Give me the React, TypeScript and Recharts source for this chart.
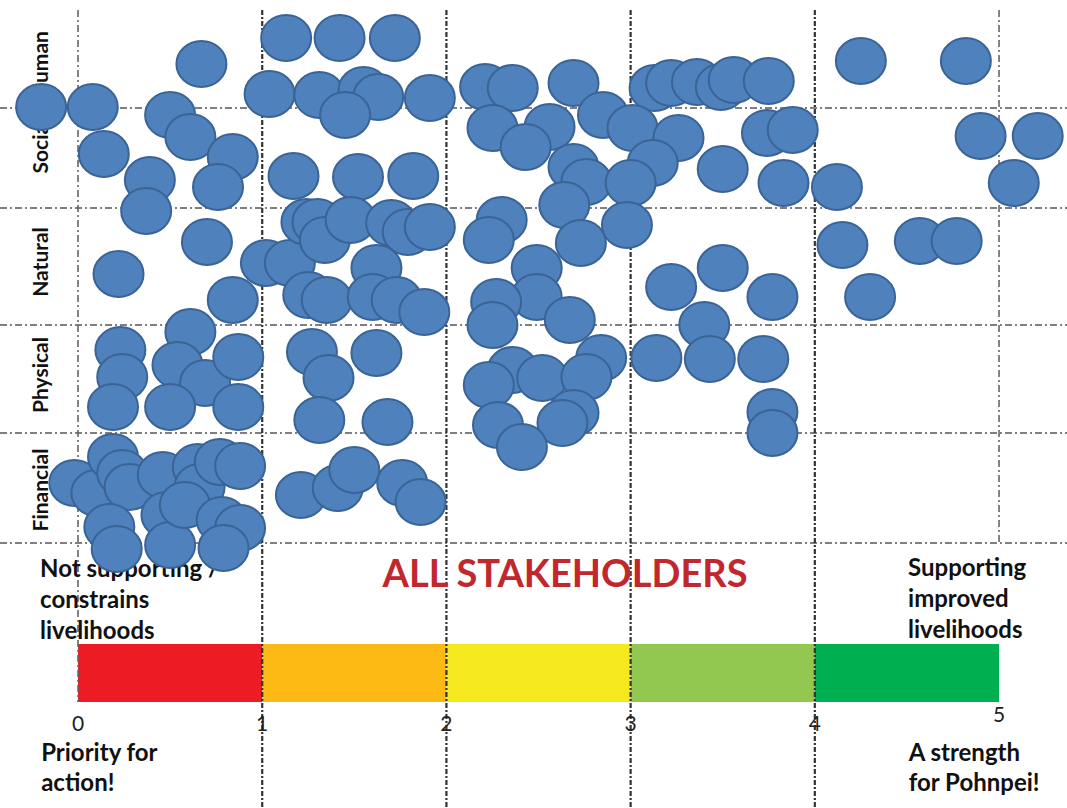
import React from 'react';
import {
  ScatterChart,
  Scatter,
  XAxis,
  YAxis,
  ReferenceLine,
  ReferenceArea,
  ReferenceDot,
} from 'recharts';

// ---------- DATA ----------
// x: livelihood score (0 = constrains, 5 = supports); y: position within the capital's row
const human = [
  { x: 0.67, y: 4.79 }, { x: 1.13, y: 5.05 }, { x: 1.42, y: 5.05 }, { x: 1.72, y: 5.05 },
  { x: 1.04, y: 4.49 }, { x: 1.31, y: 4.48 }, { x: 1.55, y: 4.53 }, { x: 1.63, y: 4.46 },
  { x: 1.45, y: 4.28 }, { x: 1.91, y: 4.45 }, { x: 2.21, y: 4.56 }, { x: 2.36, y: 4.55 },
  { x: 2.69, y: 4.6 }, { x: 3.13, y: 4.55 }, { x: 3.22, y: 4.6 }, { x: 3.36, y: 4.61 },
  { x: 3.49, y: 4.56 }, { x: 3.56, y: 4.63 }, { x: 3.75, y: 4.62 }, { x: 4.25, y: 4.82 },
  { x: 4.82, y: 4.82 },
];
const social = [
  { x: -0.2, y: 4.36 }, { x: 0.08, y: 4.36 }, { x: 0.5, y: 4.28 }, { x: 0.61, y: 4.06 },
  { x: 0.14, y: 3.89 }, { x: 0.84, y: 3.86 }, { x: 0.39, y: 3.63 }, { x: 0.76, y: 3.56 },
  { x: 1.17, y: 3.67 }, { x: 1.52, y: 3.66 }, { x: 1.82, y: 3.67 }, { x: 2.25, y: 4.15 },
  { x: 2.56, y: 4.16 }, { x: 2.43, y: 3.96 }, { x: 2.85, y: 4.28 }, { x: 3.01, y: 4.15 },
  { x: 3.26, y: 4.05 }, { x: 3.12, y: 3.8 }, { x: 2.69, y: 3.76 }, { x: 2.76, y: 3.61 },
  { x: 3.0, y: 3.6 }, { x: 2.64, y: 3.38 }, { x: 3.5, y: 3.74 }, { x: 3.74, y: 4.1 },
  { x: 3.88, y: 4.13 }, { x: 3.83, y: 3.6 }, { x: 4.12, y: 3.56 }, { x: 4.9, y: 4.07 },
  { x: 5.21, y: 4.07 }, { x: 5.08, y: 3.6 },
];
const natural = [
  { x: 0.37, y: 3.32 }, { x: 0.7, y: 3.01 }, { x: 0.22, y: 2.69 }, { x: 0.84, y: 2.43 },
  { x: 1.02, y: 2.8 }, { x: 1.15, y: 2.8 }, { x: 1.24, y: 3.21 }, { x: 1.3, y: 3.21 },
  { x: 1.34, y: 3.03 }, { x: 1.48, y: 3.23 }, { x: 1.7, y: 3.2 }, { x: 1.79, y: 3.11 },
  { x: 1.91, y: 3.16 }, { x: 1.62, y: 2.75 }, { x: 1.25, y: 2.48 }, { x: 1.35, y: 2.43 },
  { x: 1.6, y: 2.46 }, { x: 1.73, y: 2.43 }, { x: 1.88, y: 2.31 }, { x: 2.3, y: 3.23 },
  { x: 2.23, y: 3.03 }, { x: 2.73, y: 3.0 }, { x: 2.98, y: 3.18 }, { x: 2.49, y: 2.75 },
  { x: 2.49, y: 2.46 }, { x: 2.27, y: 2.41 }, { x: 2.25, y: 2.18 }, { x: 2.67, y: 2.23 },
  { x: 3.22, y: 2.56 }, { x: 3.5, y: 2.75 }, { x: 3.77, y: 2.46 }, { x: 4.15, y: 2.98 },
  { x: 4.57, y: 3.02 }, { x: 4.77, y: 3.02 }, { x: 4.3, y: 2.46 }, { x: 3.4, y: 2.18 },
];
const physical = [
  { x: 0.61, y: 2.11 }, { x: 0.23, y: 1.93 }, { x: 0.24, y: 1.66 }, { x: 0.19, y: 1.36 },
  { x: 0.54, y: 1.78 }, { x: 0.69, y: 1.6 }, { x: 0.5, y: 1.36 }, { x: 0.87, y: 1.86 },
  { x: 0.87, y: 1.36 }, { x: 1.27, y: 1.91 }, { x: 1.36, y: 1.65 }, { x: 1.31, y: 1.23 },
  { x: 1.62, y: 1.9 }, { x: 1.68, y: 1.21 }, { x: 2.84, y: 1.85 }, { x: 2.36, y: 1.73 },
  { x: 2.52, y: 1.65 }, { x: 2.23, y: 1.58 }, { x: 2.76, y: 1.66 }, { x: 2.69, y: 1.3 },
  { x: 2.63, y: 1.2 }, { x: 2.28, y: 1.18 }, { x: 2.41, y: 0.96 }, { x: 3.14, y: 1.85 },
  { x: 3.43, y: 1.84 }, { x: 3.72, y: 1.84 }, { x: 3.77, y: 1.31 }, { x: 3.77, y: 1.1 },
];
const financial = [
  { x: -0.02, y: 0.6 }, { x: 0.1, y: 0.5 }, { x: 0.19, y: 0.86 }, { x: 0.24, y: 0.7 },
  { x: 0.28, y: 0.56 }, { x: 0.17, y: 0.16 }, { x: 0.21, y: -0.06 }, { x: 0.46, y: 0.68 },
  { x: 0.48, y: 0.28 }, { x: 0.5, y: -0.02 }, { x: 0.65, y: 0.76 }, { x: 0.66, y: 0.56 },
  { x: 0.77, y: 0.81 }, { x: 0.88, y: 0.77 }, { x: 0.58, y: 0.38 }, { x: 0.78, y: 0.23 },
  { x: 0.88, y: 0.15 }, { x: 0.79, y: -0.05 }, { x: 1.21, y: 0.48 }, { x: 1.41, y: 0.55 },
  { x: 1.5, y: 0.73 }, { x: 1.76, y: 0.6 }, { x: 1.86, y: 0.41 },
];

const capitalNames = ['Human', 'Social', 'Natural', 'Physical', 'Financial'];
const capitalCentres = [4.78, 3.97, 2.81, 1.68, 0.53];
const rowBoundaries = [4.35, 3.35, 2.18, 1.1, 0];
const scoreTicks = [0, 1, 2, 3, 4, 5];
const scoreBands = [0, 1, 2, 3, 4];
const bandColors = ['#ED1C24', '#FDB913', '#F5E81C', '#92C84F', '#00B050'];

// ---------- LAYOUT ----------
const W = 1067;
const H = 808;
const X_DOMAIN: [number, number] = [-0.4235, 5.369];
const Y_DOMAIN: [number, number] = [-2.65, 5.43];
const FONT = 'Lato, "Open Sans", "Liberation Sans", sans-serif';

const dot = (p: any) => (
  <ellipse cx={p.cx} cy={p.cy} rx={25} ry={23} fill="#4F81BD" stroke="#3A6496" strokeWidth={2} />
);

const textShape =
  (lines: string[], opts: { anchor?: string; size: number; color?: string; weight?: any; lh?: number; rotate?: boolean }) =>
  (p: any) => (
    <text
      x={p.cx}
      y={p.cy}
      textAnchor={(opts.anchor as any) || 'start'}
      fontFamily={FONT}
      fontSize={opts.size}
      fontWeight={opts.weight ?? 700}
      fill={opts.color || '#111'}
      transform={opts.rotate ? `rotate(-90 ${p.cx} ${p.cy})` : undefined}
    >
      {lines.map((l, i) => (
        <tspan key={i} x={p.cx} dy={i === 0 ? 0 : opts.lh || 31}>
          {l}
        </tspan>
      ))}
    </text>
  );

const dashMain = '5 2 2 2';
const dashLight = '7 3 2 3';

export default function App() {
  return (
    <div style={{ position: 'absolute', left: 0, top: 0, width: W, height: H, background: '#fff' }}>
      <ScatterChart width={W} height={H} margin={{ top: 0, right: 0, bottom: 0, left: 0 }}>
        <XAxis type="number" dataKey="x" domain={X_DOMAIN} allowDataOverflow hide />
        <YAxis type="number" dataKey="y" domain={Y_DOMAIN} allowDataOverflow hide />

        {/* capital labels */}
        {capitalNames.map((n, i) => (
          <ReferenceDot
            key={n}
            x={-0.165}
            y={capitalCentres[i]}
            r={0}
            shape={textShape([n], { anchor: 'middle', size: 21, rotate: true })}
          />
        ))}

        {/* row boundaries */}
        {rowBoundaries.map((b) => (
          <ReferenceLine key={'h' + b} y={b} stroke="#555" strokeWidth={1.6} strokeDasharray={dashLight} />
        ))}

        {/* score dividers */}
        {scoreTicks.map((t) => (
          <ReferenceLine
            key={'v' + t}
            segment={[
              { x: t, y: 5.33 },
              { x: t, y: t === 0 ? -1.59 : t === 5 ? 0 : Y_DOMAIN[0] },
            ]}
            stroke={t === 0 || t === 5 ? '#666' : '#333'}
            strokeWidth={t === 0 || t === 5 ? 1.6 : 2.2}
            strokeDasharray={t === 0 || t === 5 ? dashLight : dashMain}
          />
        ))}

        {/* colour scale */}
        {scoreBands.map((b, i) => (
          <ReferenceArea
            key={'band' + b}
            x1={b}
            x2={b + 1}
            y1={-1.59}
            y2={-1.01}
            fill={bandColors[i]}
            fillOpacity={1}
            stroke="none"
          />
        ))}

        {scoreTicks.map((t) => (
          <ReferenceDot
            key={'t' + t}
            x={t}
            y={t === 5 ? -1.79 : -1.88}
            r={0}
            shape={textShape([String(t)], { anchor: 'middle', size: 21, weight: 400, color: '#222' })}
          />
        ))}

        <ReferenceDot x={-0.206} y={-0.34} r={0}
          shape={textShape(['Not supporting /', 'constrains', 'livelihoods'], { size: 24 })} />
        <ReferenceDot x={4.506} y={-0.33} r={0}
          shape={textShape(['Supporting', 'improved', 'livelihoods'], { size: 24 })} />
        <ReferenceDot x={-0.2} y={-2.18} r={0}
          shape={textShape(['Priority for', 'action!'], { size: 24, lh: 30 })} />
        <ReferenceDot x={4.51} y={-2.18} r={0}
          shape={textShape(['A strength', 'for Pohnpei!'], { size: 24, lh: 30 })} />
        <ReferenceDot x={2.644} y={-0.44} r={0}
          shape={textShape(['ALL STAKEHOLDERS'], { anchor: 'middle', size: 38, color: '#C1272D' })} />

        <Scatter name="Human" data={human} shape={dot} isAnimationActive={false} />
        <Scatter name="Social" data={social} shape={dot} isAnimationActive={false} />
        <Scatter name="Natural" data={natural} shape={dot} isAnimationActive={false} />
        <Scatter name="Physical" data={physical} shape={dot} isAnimationActive={false} />
        <Scatter name="Financial" data={financial} shape={dot} isAnimationActive={false} />
      </ScatterChart>
    </div>
  );
}
